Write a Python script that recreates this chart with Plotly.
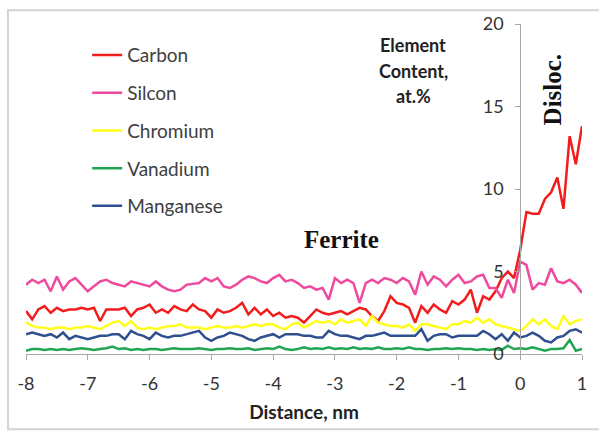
import plotly.graph_objects as go

# Sampling grid along the profile, nm
distance = [round(-8 + 0.1 * i, 1) for i in range(91)]

carbon = [
    2.6, 2.1, 2.7, 2.9, 2.5, 2.8, 2.6, 2.7, 2.7, 2.8,
    2.7, 2.8, 2.0, 2.7, 2.7, 2.7, 2.8, 2.3, 2.7, 2.8,
    3.0, 2.5, 2.7, 2.5, 2.9, 2.7, 2.6, 3.0, 2.7, 2.6,
    2.2, 2.7, 2.5, 2.6, 2.8, 3.1, 2.4, 2.8, 2.4, 2.7,
    2.3, 2.5, 2.2, 2.3, 2.2, 1.9, 2.3, 2.7, 2.5, 2.4,
    2.5, 2.6, 2.4, 2.6, 2.8, 2.7, 2.3, 2.0, 2.6, 3.5,
    3.1, 3.0, 2.8, 1.9, 2.9, 2.5, 3.0, 2.7, 2.5, 3.2,
    3.0, 3.3, 3.9, 2.5, 3.5, 3.3, 3.8, 4.6, 5.0, 4.6,
    6.3, 8.6, 8.5, 8.5, 9.4, 9.8, 10.7, 8.8, 13.2, 11.5, 13.8,
]

silicon = [
    4.2, 4.5, 4.3, 4.5, 3.8, 4.7, 3.9, 4.4, 4.6, 4.2,
    3.8, 4.1, 4.4, 4.5, 4.3, 4.2, 4.1, 4.4, 4.3, 4.2,
    4.1, 4.4, 4.1, 3.9, 3.8, 3.9, 4.2, 4.25, 4.3, 4.6,
    4.4, 4.6, 4.1, 4.0, 4.2, 4.5, 4.7, 4.6, 4.4, 4.3,
    4.6, 4.8, 4.4, 4.5, 4.3, 4.0, 4.1, 3.9, 4.0, 3.3,
    4.6, 4.3, 4.5, 4.3, 3.1, 4.3, 4.5, 4.3, 4.6, 4.5,
    4.3, 4.6, 4.4, 3.6, 5.0, 4.2, 4.7, 4.5, 4.1, 4.5,
    4.8, 4.3, 4.4, 4.7, 4.8, 4.0, 4.0, 3.4, 4.5, 3.7,
    5.6, 5.4, 3.9, 4.3, 4.2, 5.2, 4.4, 4.3, 4.5, 4.2, 3.7,
]

chromium = [
    1.9, 1.7, 1.6, 1.6, 1.5, 1.6, 1.6, 1.5, 1.6, 1.6,
    1.7, 1.6, 1.5, 1.7, 1.9, 2.0, 1.7, 2.0, 1.6, 1.5,
    1.6, 1.5, 1.6, 1.7, 1.7, 1.8, 1.6, 1.6, 1.6, 1.5,
    1.6, 1.7, 1.6, 1.6, 1.7, 1.6, 1.7, 1.8, 1.7, 1.8,
    1.8, 1.6, 1.5, 1.8, 1.9, 1.6, 1.8, 2.0, 1.9, 2.0,
    1.8, 2.1, 1.9, 2.0, 2.1, 1.7, 2.3, 1.9, 1.8, 1.7,
    1.7, 1.6, 1.8, 1.4, 1.8, 1.8, 1.7, 1.6, 1.5, 1.8,
    1.8, 2.0, 1.9, 2.2, 1.9, 2.1, 1.8, 1.7, 1.6, 1.5,
    1.4, 1.7, 2.1, 1.8, 2.1, 1.7, 1.5, 2.3, 1.8, 2.0, 2.1,
]

vanadium = [
    0.2, 0.3, 0.3, 0.25, 0.3, 0.25, 0.3, 0.25, 0.3, 0.35,
    0.3, 0.25, 0.3, 0.35, 0.45, 0.3, 0.35, 0.25, 0.3, 0.25,
    0.3, 0.3, 0.25, 0.3, 0.35, 0.3, 0.3, 0.3, 0.35, 0.3,
    0.25, 0.3, 0.3, 0.35, 0.3, 0.3, 0.35, 0.25, 0.3, 0.35,
    0.3, 0.45, 0.3, 0.25, 0.3, 0.4, 0.3, 0.35, 0.3, 0.4,
    0.3, 0.35, 0.3, 0.4, 0.3, 0.35, 0.3, 0.4, 0.3, 0.3,
    0.35, 0.3, 0.4, 0.3, 0.3, 0.25, 0.3, 0.3, 0.35, 0.3,
    0.35, 0.3, 0.3, 0.25, 0.3, 0.25, 0.3, 0.25, 0.5, 0.3,
    0.35, 0.3, 0.4, 0.3, 0.2, 0.3, 0.3, 0.35, 0.85, 0.2, 0.3,
]

manganese = [
    1.2, 1.3, 1.2, 1.1, 1.2, 1.0, 1.3, 0.9, 1.1, 1.0,
    0.9, 1.0, 1.1, 1.1, 1.2, 1.2, 0.9, 1.4, 1.2, 1.1,
    0.9, 1.3, 1.1, 1.0, 1.1, 1.1, 1.2, 1.3, 1.4, 1.0,
    0.8, 1.0, 1.1, 1.3, 1.2, 1.1, 0.9, 0.8, 1.0, 1.1,
    1.2, 1.0, 1.2, 1.2, 1.2, 1.1, 1.1, 1.0, 1.0, 1.4,
    1.2, 1.1, 1.1, 1.0, 0.9, 1.1, 1.1, 1.2, 1.3, 1.1,
    1.1, 1.1, 1.1, 1.1, 1.5, 0.8, 1.1, 1.2, 1.2, 1.0,
    1.1, 1.1, 1.1, 1.1, 1.4, 1.2, 0.9, 1.2, 0.8, 1.3,
    1.0, 1.1, 1.3, 1.1, 0.8, 0.7, 1.0, 1.1, 1.4, 1.5, 1.3,
]

series_names = ["Carbon", "Silcon", "Chromium", "Vanadium", "Manganese"]
series_colors = ["#F21C1C", "#EE4A9E", "#FFFF1A", "#22A552", "#2F5090"]
series_values = [carbon, silicon, chromium, vanadium, manganese]

x_ticks = [-8, -7, -6, -5, -4, -3, -2, -1, 0, 1]
y_ticks = [0, 5, 10, 15, 20]

fig = go.Figure()
for i, (name, color, vals) in enumerate(zip(series_names, series_colors, series_values)):
    fig.add_trace(go.Scatter(
        x=distance, y=vals, name=name, mode="lines",
        line=dict(color=color, width=2.5),
        legendgroup=f"g{i}",
    ))

axis_grey = "#A6A6A6"
sans = "Lato, sans-serif"
tick_font = dict(family=sans, size=18, color="#333333")

fig.update_layout(
    width=599, height=432,
    margin=dict(l=26, r=17, t=21, b=78),
    paper_bgcolor="white", plot_bgcolor="white",
    showlegend=True,
    legend=dict(
        x=0.11, y=0.963, xanchor="left", yanchor="top",
        bgcolor="rgba(0,0,0,0)", borderwidth=0,
        font=dict(family=sans, size=19, color="#404040"),
        itemwidth=30, tracegroupgap=10, traceorder="grouped",
    ),
    xaxis=dict(
        range=[-8, 1], tickvals=x_ticks, ticktext=[str(v) for v in x_ticks],
        showgrid=False, zeroline=False,
        showline=True, linecolor=axis_grey, linewidth=1,
        ticks="outside", ticklen=5, tickcolor=axis_grey,
        tickfont=tick_font, ticklabelstandoff=8,
        title=dict(text="<b>Distance, nm</b>", standoff=13,
                   font=dict(family=sans, size=19, color="#222222")),
    ),
    yaxis=dict(
        range=[0, 20], tickvals=y_ticks, ticktext=[str(v) for v in y_ticks],
        anchor="free", position=8 / 9, side="left",
        showgrid=False, zeroline=False,
        showline=True, linecolor=axis_grey, linewidth=1,
        ticks="outside", ticklen=5, tickcolor=axis_grey,
        tickfont=tick_font, ticklabelstandoff=8,
    ),
)

# Chart frame
fig.add_shape(type="rect", xref="paper", yref="paper",
              x0=-0.0324, x1=1.036, y0=-0.228, y1=1.042,
              line=dict(color="#D4D4D4", width=2), layer="below")

# Axis caption for concentration
for line_text, yp in [("Element", 42), ("Content,", 68), ("at.%", 94)]:
    fig.add_annotation(text=f"<b>{line_text}</b>", xref="paper", yref="paper",
                       x=(413 - 26) / 556, y=(354 - yp) / 333, showarrow=False,
                       xanchor="center", yanchor="middle",
                       font=dict(family=sans, size=18, color="#222222"))

fig.add_annotation(text="<b>Ferrite</b>", xref="paper", yref="paper",
                   x=(341 - 26) / 556, y=(354 - 238) / 333, showarrow=False,
                   xanchor="center", yanchor="middle",
                   font=dict(family="Liberation Serif, serif", size=25, color="#111111"))

fig.add_annotation(text="<b>Disloc.</b>", xref="paper", yref="paper",
                   x=(552 - 26) / 556, y=(354 - 87) / 333, showarrow=False,
                   xanchor="center", yanchor="middle", textangle=-90,
                   font=dict(family="Liberation Serif, serif", size=25, color="#111111"))

fig.write_html("out.html")
